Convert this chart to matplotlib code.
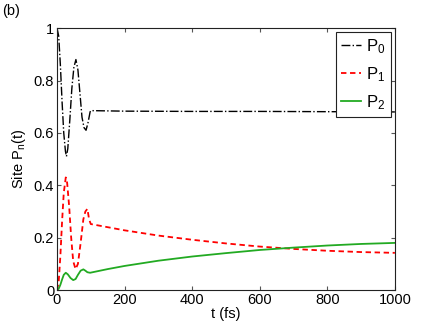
import numpy as np
import matplotlib
matplotlib.use('Agg')
import matplotlib.pyplot as plt

plt.rcParams['font.family'] = ['Liberation Sans', 'DejaVu Sans']
plt.rcParams['mathtext.fontset'] = 'custom'
plt.rcParams['mathtext.rm'] = 'Liberation Sans'
plt.rcParams['mathtext.it'] = 'Liberation Sans'

# 数据
t0 = [0, 5, 10, 15, 20, 25, 28, 32, 38, 44, 50, 56, 62, 68, 74, 80, 86, 92, 98, 100,
      200, 400, 600, 800, 1000]
p0 = [1.0, 0.97, 0.86, 0.72, 0.6, 0.53, 0.51, 0.54, 0.65, 0.77, 0.85, 0.88, 0.84, 0.75,
      0.66, 0.62, 0.61, 0.64, 0.68, 0.685, 0.683, 0.682, 0.682, 0.681, 0.68]

t1 = [0, 5, 10, 15, 20, 26, 30, 36, 42, 48, 55, 62, 70, 78, 84, 90, 95, 100,
      150, 200, 300, 400, 500, 600, 700, 800, 900, 1000]
p1 = [0.0, 0.03, 0.13, 0.26, 0.37, 0.43, 0.41, 0.32, 0.2, 0.11, 0.08, 0.1, 0.18, 0.27,
      0.3, 0.31, 0.27, 0.252, 0.24, 0.228, 0.208, 0.192, 0.178, 0.166, 0.157, 0.15,
      0.145, 0.142]

t2 = [0, 5, 10, 15, 20, 26, 32, 40, 48, 55, 62, 70, 78, 84, 90, 98,
      150, 200, 300, 400, 500, 600, 700, 800, 900, 1000]
p2 = [0.0, 0.005, 0.02, 0.04, 0.058, 0.066, 0.06, 0.046, 0.038, 0.042, 0.058, 0.074,
      0.079, 0.074, 0.068, 0.066, 0.08, 0.092, 0.112, 0.128, 0.141, 0.153, 0.162, 0.17,
      0.176, 0.18]

xticks = [0, 200, 400, 600, 800, 1000]
yticks = [0, 0.2, 0.4, 0.6, 0.8, 1]
yticklabels = ['0', '0.2', '0.4', '0.6', '0.8', '1']

fig = plt.figure(figsize=(4.36, 3.27), dpi=100)
ax = fig.add_axes([0.1307, 0.113, 0.775, 0.801])

ax.plot(t0, p0, color='k', linestyle='-.', linewidth=1.0, label='P$_{0}$')
ax.plot(t1, p1, color='#ff0000', linestyle=(0, (3, 2)), linewidth=1.3, label='P$_{1}$')
ax.plot(t2, p2, color='#22aa22', linestyle='-', linewidth=1.3, label='P$_{2}$')

ax.set_xlim(0, 1000)
ax.set_ylim(0, 1)
ax.set_xticks(xticks)
ax.set_yticks(yticks)
ax.set_yticklabels(yticklabels)
ax.tick_params(direction='in', top=True, right=True, length=3, labelsize=10.5,
               color='#555555', pad=2)
for s in ax.spines.values():
    s.set_color('#222222')
    s.set_linewidth(0.8)

ax.set_xlabel('t (fs)', fontsize=10.5, labelpad=0)
ax.set_ylabel('Site P$_n$(t)', fontsize=10.5, labelpad=4)

leg = ax.legend(loc='upper right', fontsize=12, handlelength=1.2, handletextpad=0.3,
                borderaxespad=0.25, borderpad=0.3, labelspacing=0.55, fancybox=False,
                framealpha=1, edgecolor='#222222')
leg.get_frame().set_linewidth(0.8)

fig.text(0.005, 0.965, '(b)', fontsize=10.5, va='center', ha='left')

fig.savefig('out.png', dpi=100)
